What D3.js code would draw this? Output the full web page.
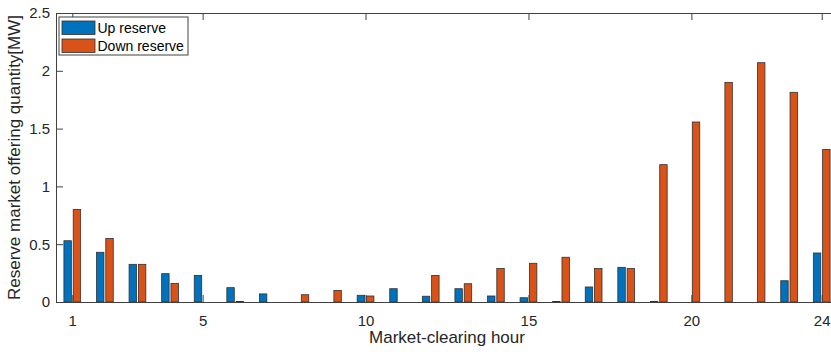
<!DOCTYPE html>
<html>
<head>
<meta charset="utf-8">
<script src="https://cdn.jsdelivr.net/npm/d3@7"></script>
<style>
  body { margin: 0; background: #fff; }
  svg { display: block; overflow: hidden; font-family: "Liberation Sans", Arial, sans-serif; }
  .axis path, .axis line { stroke: #404040; }
  .axis text { fill: #262626; font-size: 15px; font-family: "Liberation Sans", Arial, sans-serif; }
</style>
</head>
<body>
<div id="graf"></div>
<script>
// datos
const horas = d3.range(1, 25)
const upReserve = [0.53, 0.43, 0.326, 0.245, 0.23, 0.124, 0.07, 0, 0, 0.058, 0.115, 0.05,
                   0.115, 0.052, 0.037, 0.005, 0.13, 0.30, 0.005, 0, 0, 0, 0.184, 0.424]
const downReserve = [0.80, 0.55, 0.326, 0.16, 0, 0.005, 0, 0.063, 0.10, 0.052, 0, 0.23,
                     0.158, 0.29, 0.335, 0.387, 0.29, 0.29, 1.188, 1.557, 1.90, 2.07, 1.814, 1.32]
const series = ["Up reserve", "Down reserve"]
const xTicks = [1, 5, 10, 15, 20, 24]
const yTicks = [0, 0.5, 1, 1.5, 2, 2.5]

const data = horas.map((h, i) => ({ hora: h, "Up reserve": upReserve[i], "Down reserve": downReserve[i] }))

// Dimensiones
const anchoTotal = 831
const altoTotal = 352
const margins = { top: 13, left: 56, bottom: 50 }
const ancho = 782
const alto = altoTotal - margins.top - margins.bottom

const svg = d3.select("#graf")
  .append("svg")
  .attr("width", anchoTotal)
  .attr("height", altoTotal)

const g = svg.append("g")
  .attr("transform", `translate(${margins.left}, ${margins.top})`)

// Escaladores
const x = d3.scaleLinear().domain([0.5, 24.5]).range([0, ancho])
const grupo = x(1.5714) - x(1)
const xSub = d3.scaleBand()
  .domain(series)
  .range([-grupo / 2, grupo / 2])
  .paddingInner(0.2)
  .paddingOuter(0.1)
const y = d3.scaleLinear().domain([0, 2.5]).range([alto, 0])
const color = d3.scaleOrdinal().domain(series).range(["#0072BD", "#D95319"])

// barras
g.selectAll("g.hora")
  .data(data)
  .enter()
  .append("g")
  .attr("class", "hora")
  .attr("transform", d => `translate(${x(d.hora)}, 0)`)
  .selectAll("rect")
  .data(d => series.map(k => ({ k: k, v: d[k] })))
  .enter()
  .append("rect")
  .attr("x", d => xSub(d.k))
  .attr("y", d => y(d.v))
  .attr("width", xSub.bandwidth())
  .attr("height", d => alto - y(d.v))
  .attr("fill", d => color(d.k))
  .attr("stroke", "#303030")
  .attr("stroke-width", 0.8)

// ejes
const xAxis = d3.axisBottom(x).tickValues(xTicks).tickSize(-7).tickSizeOuter(0).tickPadding(13)
g.append("g").attr("class", "axis").attr("transform", `translate(0, ${alto})`).call(xAxis)

const xTop = d3.axisTop(x).tickValues(xTicks).tickSize(-7).tickSizeOuter(0).tickFormat("")
g.append("g").attr("class", "axis").call(xTop)

const yAxis = d3.axisLeft(y).tickValues(yTicks).tickSize(-7).tickSizeOuter(0).tickPadding(6)
  .tickFormat(d => d3.format("")(d))
g.append("g").attr("class", "axis").call(yAxis)

// titulos de ejes
svg.append("text")
  .attr("x", 447)
  .attr("y", 343)
  .attr("text-anchor", "middle")
  .attr("font-size", 17)
  .attr("fill", "#262626")
  .text("Market-clearing hour")

svg.append("text")
  .attr("transform", `translate(20, ${margins.top + alto / 2}) rotate(-90)`)
  .attr("text-anchor", "middle")
  .attr("font-size", 17)
  .attr("fill", "#262626")
  .text("Reserve market offering quantity[MW]")

// leyenda
const leyenda = svg.append("g").attr("transform", "translate(59, 17)")
leyenda.append("rect")
  .attr("width", 129).attr("height", 38)
  .attr("fill", "#fff").attr("stroke", "#404040").attr("stroke-width", 1)
series.forEach((s, i) => {
  leyenda.append("rect")
    .attr("x", 3).attr("y", 4 + i * 18)
    .attr("width", 33).attr("height", 13.5)
    .attr("fill", color(s)).attr("stroke", "#303030").attr("stroke-width", 0.8)
  leyenda.append("text")
    .attr("x", 38.5).attr("y", 16 + i * 18)
    .attr("font-size", 14)
    .attr("fill", "#000")
    .text(s)
})
</script>
</body>
</html>
